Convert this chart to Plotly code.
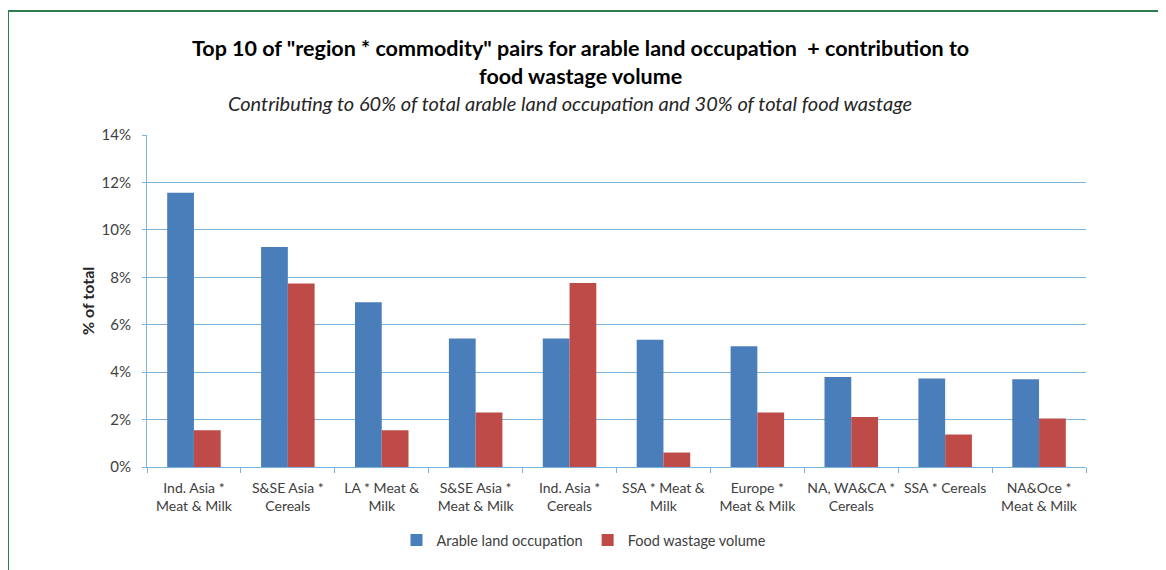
import plotly.graph_objects as go

categories = ["Ind. Asia *<br>Meat & Milk", "S&SE Asia *<br>Cereals", "LA * Meat &<br>Milk",
              "S&SE Asia *<br>Meat & Milk", "Ind. Asia *<br>Cereals", "SSA * Meat &<br>Milk",
              "Europe *<br>Meat & Milk", "NA, WA&CA *<br>Cereals", "SSA * Cereals",
              "NA&Oce *<br>Meat & Milk"]
arable = [11.56, 9.28, 6.95, 5.42, 5.42, 5.37, 5.09, 3.80, 3.73, 3.70]
wastage = [1.55, 7.74, 1.55, 2.30, 7.76, 0.61, 2.30, 2.11, 1.37, 2.04]
y_ticks = [0, 2, 4, 6, 8, 10, 12, 14]

FONT = "Lato"
OFF = 8  # page body margin
W, H = 1166 - OFF, 570 - OFF
# plot area in reference (screen) pixels
X0, X1, Y0, Y1 = 147, 1086, 135, 467
L, R, T, B = X0 - OFF, W - (X1 - OFF), Y0 - OFF, H - (Y1 - OFF)
PW, PH = X1 - X0, Y1 - Y0

def px(x):
    return (x - X0) / PW

def py(y):
    return (Y1 - y) / PH

fig = go.Figure()
fig.add_trace(go.Bar(x=categories, y=arable, name="Arable land occupation",
                     marker=dict(color="#4A7EBB", line=dict(width=0))))
fig.add_trace(go.Bar(x=categories, y=wastage, name="Food wastage volume",
                     marker=dict(color="#BE4B48", line=dict(width=0))))

grid = "#7DB4DC"
fig.update_layout(
    width=W, height=H,
    margin=dict(l=L, r=R, t=T, b=B),
    paper_bgcolor="white", plot_bgcolor="white",
    barmode="group", bargap=0.43, bargroupgap=0,
    font=dict(family=FONT, size=14, color="#404040"),
    showlegend=True,
    legend=dict(orientation="h", x=px(584), xanchor="center", y=py(540), yanchor="middle",
                font=dict(family=FONT, size=14.5, color="#404040"), itemwidth=30,
                traceorder="normal"),
    xaxis=dict(type="category", showgrid=False, showline=True, linecolor=grid, linewidth=1,
               ticks="outside", ticklen=5, tickcolor=grid, tickson="boundaries",
               tickangle=0, ticklabelstandoff=8,
               tickfont=dict(family=FONT, size=14, color="#404040")),
    yaxis=dict(range=[0, 14], tickvals=y_ticks, ticktext=[f"{v}%" for v in y_ticks],
               showgrid=True, gridcolor=grid, gridwidth=1, showline=True, linecolor=grid,
               ticks="outside", ticklen=4, tickcolor=grid, zeroline=False,
               ticklabelstandoff=8,
               tickfont=dict(family=FONT, size=15, color="#404040")),
)

annotations = [
    dict(text='<b>Top 10 of "region * commodity" pairs for arable land occupation  + contribution to</b>',
         x=px(580), y=py(48), font=dict(family=FONT, size=21.5, color="black")),
    dict(text="<b>food wastage volume</b>", x=px(580), y=py(76),
         font=dict(family=FONT, size=21.5, color="black")),
    dict(text="<i>Contributing to 60% of total arable land occupation and 30% of total food wastage</i>",
         x=px(570), y=py(103), font=dict(family=FONT, size=20, color="#262626")),
    dict(text="<b>% of total</b>", x=px(87), y=py(301), textangle=-90,
         font=dict(family=FONT, size=16, color="#262626")),
]
for a in annotations:
    fig.add_annotation(xref="paper", yref="paper", xanchor="center", yanchor="middle",
                       showarrow=False, **a)

frame = "#2E7D50"
fig.add_shape(type="line", xref="paper", yref="paper", x0=px(7), x1=px(1180), y0=py(11), y1=py(11),
              line=dict(color=frame, width=2))
fig.add_shape(type="line", xref="paper", yref="paper", x0=px(8), x1=px(8), y0=py(11), y1=py(590),
              line=dict(color=frame, width=2))

fig.write_html("out.html")
